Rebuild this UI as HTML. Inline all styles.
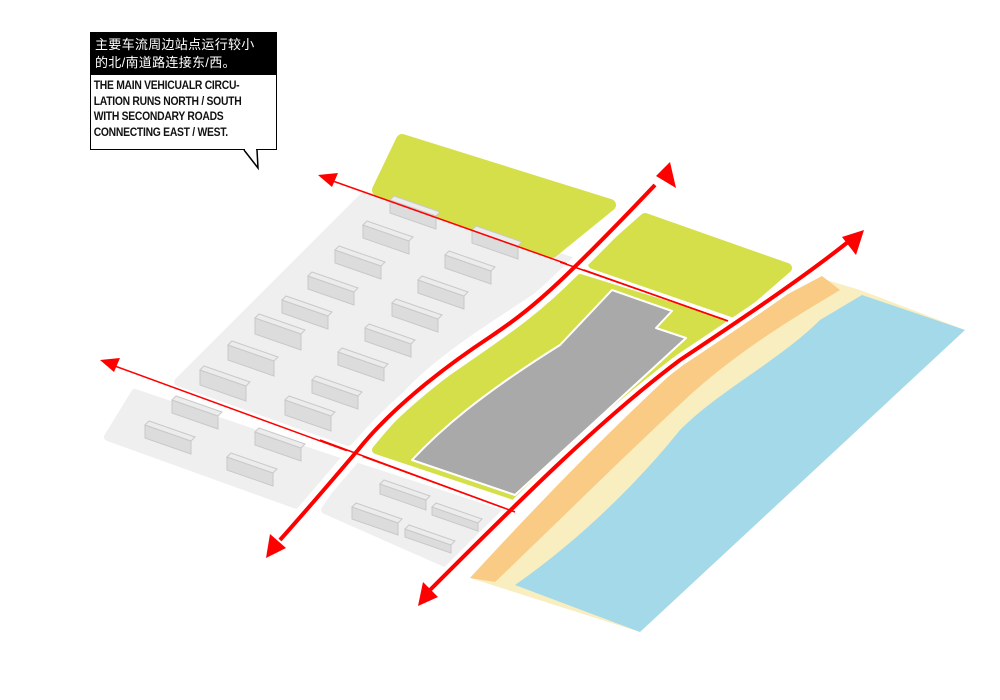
<!DOCTYPE html>
<html><head><meta charset="utf-8"><style>
body{margin:0;background:#fff;width:1000px;height:700px;overflow:hidden;position:relative;font-family:"Liberation Sans","Noto Sans CJK SC",sans-serif}
.box{position:absolute;left:90px;top:32px;width:185px;height:116px;border:1.5px solid #000;background:#fff}
.cn{background:#000;color:#fff;font-size:13px;line-height:18px;padding:3px 4px 3px 4px;letter-spacing:0.3px}
.en{font-size:11.5px;line-height:15.5px;padding:4px 4px 4px 3px;font-weight:bold;color:#111;letter-spacing:-0.3px;transform:scaleX(0.9);transform-origin:left;white-space:nowrap;font-family:"Liberation Sans Narrow","Liberation Sans",sans-serif}
svg{position:absolute;left:0;top:0}
</style></head><body>
<svg width="1000" height="700" viewBox="0 0 1000 700">
<!-- gray blocks -->
<path d="M365,195 L575,262 C520,300 440,345 400,390 L348,442 L178,382 Z" fill="#efefef" stroke="#efefef" stroke-width="8" stroke-linejoin="round"/>
<path d="M135,393 L340,462 L305,508 L108,437 Z" fill="#efefef" stroke="#efefef" stroke-width="8" stroke-linejoin="round"/>
<path d="M355,466 L505,515 L452,566 L325,510 Z" fill="#efefef" stroke="#efefef" stroke-width="8" stroke-linejoin="round"/>
<!-- greens -->
<path d="M402,140 L610,205 L552,252 L378,190 Z" fill="#d4df4a" stroke="#d4df4a" stroke-width="12" stroke-linejoin="round"/>
<path d="M645,218 L787,268 L735,313 L593,264 Z" fill="#d4df4a" stroke="#d4df4a" stroke-width="10" stroke-linejoin="round"/>
<path d="M580,278 L722,322 L520,498 L376,450 C400,420 420,400 450,380 C500,345 540,320 580,278 Z" fill="#d4df4a" stroke="#d4df4a" stroke-width="8" stroke-linejoin="round"/>
<path d="M612,290 L672,311 L656,328 L686,338 L515,495 L412,460 C440,430 480,395 560,345 Z" fill="#a9a9a9" stroke="#fff" stroke-width="2" stroke-linejoin="round"/>
<!-- beach & water -->
<path d="M820,278 L860,290 L965,330 L640,632 L470,578 C560,480 640,400 720,330 Z" fill="#f8eec0"/>
<path d="M822,276 L840,290 C790,320 740,350 690,395 C620,460 560,520 495,582 L470,578 C560,480 640,400 720,330 Z" fill="#f9cb85"/>
<path d="M862,295 L965,330 L640,632 L515,585 C580,540 640,480 680,430 C720,390 780,360 820,320 Z" fill="#a3d9e9"/>
<!-- buildings -->
<g fill="#dcdcdc" stroke="#c9c9c9" stroke-width="1">
<path d="M390,200 l46,16 l0,13 l-46,-16 z"/><path d="M472,230 l46,16 l0,13 l-46,-16 z"/>
<path d="M363,225 l46,16 l0,13 l-46,-16 z"/><path d="M445,255 l46,16 l0,13 l-46,-16 z"/>
<path d="M335,250 l46,16 l0,13 l-46,-16 z"/><path d="M418,280 l46,16 l0,13 l-46,-16 z"/>
<path d="M308,276 l46,16 l0,13 l-46,-16 z"/><path d="M392,303 l46,16 l0,13 l-46,-16 z"/>
<path d="M282,300 l46,16 l0,13 l-46,-16 z"/><path d="M365,328 l46,16 l0,13 l-46,-16 z"/>
<path d="M255,318 l46,16 l0,16 l-46,-16 z"/><path d="M338,352 l46,16 l0,13 l-46,-16 z"/>
<path d="M228,345 l46,16 l0,15 l-46,-16 z"/><path d="M312,380 l46,16 l0,13 l-46,-16 z"/>
<path d="M200,370 l46,16 l0,15 l-46,-16 z"/><path d="M285,400 l46,16 l0,15 l-46,-16 z"/>
<path d="M172,400 l46,16 l0,13 l-46,-16 z"/><path d="M145,425 l46,16 l0,13 l-46,-16 z"/>
<path d="M255,432 l46,16 l0,13 l-46,-16 z"/><path d="M227,457 l46,16 l0,13 l-46,-16 z"/>
<path d="M380,484 l46,16 l0,10 l-46,-16 z"/><path d="M432,507 l46,16 l0,8 l-46,-16 z"/>
<path d="M352,507 l46,16 l0,12 l-46,-16 z"/><path d="M405,529 l46,16 l0,8 l-46,-16 z"/>
</g>
<g fill="#ececec" stroke="#c9c9c9" stroke-width="1">
<path d="M390,200 l4,-4 l46,16 l-4,4 z"/><path d="M472,230 l4,-4 l46,16 l-4,4 z"/>
<path d="M363,225 l4,-4 l46,16 l-4,4 z"/><path d="M445,255 l4,-4 l46,16 l-4,4 z"/>
<path d="M335,250 l4,-4 l46,16 l-4,4 z"/><path d="M418,280 l4,-4 l46,16 l-4,4 z"/>
<path d="M308,276 l4,-4 l46,16 l-4,4 z"/><path d="M392,303 l4,-4 l46,16 l-4,4 z"/>
<path d="M282,300 l4,-4 l46,16 l-4,4 z"/><path d="M365,328 l4,-4 l46,16 l-4,4 z"/>
<path d="M255,318 l4,-4 l46,16 l-4,4 z"/><path d="M338,352 l4,-4 l46,16 l-4,4 z"/>
<path d="M228,345 l4,-4 l46,16 l-4,4 z"/><path d="M312,380 l4,-4 l46,16 l-4,4 z"/>
<path d="M200,370 l4,-4 l46,16 l-4,4 z"/><path d="M285,400 l4,-4 l46,16 l-4,4 z"/>
<path d="M172,400 l4,-4 l46,16 l-4,4 z"/><path d="M145,425 l4,-4 l46,16 l-4,4 z"/>
<path d="M255,432 l4,-4 l46,16 l-4,4 z"/><path d="M227,457 l4,-4 l46,16 l-4,4 z"/>
<path d="M380,484 l4,-4 l46,16 l-4,4 z"/><path d="M432,507 l4,-4 l46,16 l-4,4 z"/>
<path d="M352,507 l4,-4 l46,16 l-4,4 z"/><path d="M405,529 l4,-4 l46,16 l-4,4 z"/>
</g>
<!-- thin roads -->
<line x1="728" y1="321" x2="330" y2="180" stroke="#f00" stroke-width="1.5"/>
<path d="M318,175 l20,-2 l-6,14 z" fill="#f00"/>
<line x1="515" y1="512" x2="112" y2="365" stroke="#f00" stroke-width="1.5"/>
<path d="M100,360 l20,-2 l-6,14 z" fill="#f00"/>
<!-- main roads: white halo -->
<path d="M280,540 C320,495 345,465 358,450 C390,410 440,370 490,337 C530,310 555,290 655,185" fill="none" stroke="#fff" stroke-width="16"/>
<path d="M430,590 C520,500 600,420 680,360 C740,320 800,280 848,242" fill="none" stroke="#fff" stroke-width="12"/>
<line x1="728" y1="321" x2="560" y2="262" stroke="#f00" stroke-width="1.5"/>
<line x1="515" y1="512" x2="320" y2="440" stroke="#f00" stroke-width="1.5"/>
<path d="M280,540 C320,495 345,465 358,450 C390,410 440,370 490,337 C530,310 555,290 655,185" fill="none" stroke="#f00" stroke-width="4"/>
<path d="M670,162 l6,26 l-20,-12 z" fill="#f00"/>
<path d="M266,558 l4,-24 l16,14 z" fill="#f00"/>
<path d="M430,590 C520,500 600,420 680,360 C740,320 800,280 848,242" fill="none" stroke="#f00" stroke-width="4"/>
<path d="M864,230 l-8,25 l-14,-18 z" fill="#f00"/>
<path d="M418,606 l5,-24 l15,15 z" fill="#f00"/>
</svg>
<div class="box"><div class="cn">主要车流周边站点运行较小<br>的北/南道路连接东/西。</div><div class="en">THE MAIN VEHICUALR CIRCU-<br>LATION RUNS NORTH / SOUTH<br>WITH SECONDARY ROADS<br>CONNECTING EAST / WEST.</div></div>
<svg width="1000" height="700" style="pointer-events:none"><path d="M244,150 L258,168 L257,150" fill="#fff" stroke="#000" stroke-width="1.5"/><line x1="245" y1="149.5" x2="256" y2="149.5" stroke="#fff" stroke-width="2"/></svg>
</body></html>
